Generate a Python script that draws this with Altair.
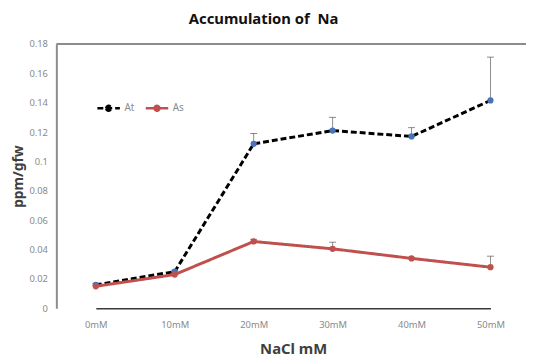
import altair as alt
import pandas as pd

categories = ["0mM", "10mM", "20mM", "30mM", "40mM", "50mM"]
at_values = [0.016, 0.025, 0.112, 0.121, 0.117, 0.1415]
at_upper = [0.017, 0.026, 0.119, 0.130, 0.123, 0.171]
as_values = [0.015, 0.023, 0.0455, 0.0405, 0.034, 0.028]
as_upper = [0.0155, 0.0235, 0.047, 0.045, 0.0345, 0.0355]
y_ticks = [0, 0.02, 0.04, 0.06, 0.08, 0.1, 0.12, 0.14, 0.16, 0.18]

rows = []
for i, c in enumerate(categories):
    rows.append({"conc": c, "series": "At", "value": at_values[i], "upper": at_upper[i]})
for i, c in enumerate(categories):
    rows.append({"conc": c, "series": "As", "value": as_values[i], "upper": as_upper[i]})
df = pd.DataFrame(rows)

font = "Noto Sans"
x_enc = alt.X(
    "conc:N",
    sort=categories,
    scale=alt.Scale(type="point", range=[40, 440], padding=0),
    axis=alt.Axis(
        title="NaCl mM", labelAngle=0, ticks=False, labelColor="#8a8a8a",
        labelFontSize=9.5, labelPadding=11, domainColor="#3a3a3a", domainWidth=1.5,
        titleFontSize=15, titleFontWeight="bold", titleColor="#404040",
        titlePadding=13, titleX=240, labelFont=font, titleFont=font,
    ),
)
y_scale = alt.Scale(domain=[0, 0.18], nice=False, zero=True)
y_axis = alt.Axis(
    title="ppm/gfw", values=y_ticks, format="~g", ticks=False, grid=False,
    labelColor="#8a8a8a", labelFontSize=9.5, labelPadding=9, labelOverlap=False,
    domainColor="#8c8c8c", domainWidth=2,
    titleFontSize=14, titleFontWeight="bold", titleColor="#404040",
    titlePadding=3, labelFont=font, titleFont=font,
)


def yq(field):
    return alt.Y(field, scale=y_scale, axis=y_axis, title="ppm/gfw")


series_dom = ["At", "As"]

base = alt.Chart(df)

err = base.mark_rule(color="#8c8c8c", strokeWidth=1).encode(
    x=x_enc, y=yq("value:Q"), y2="upper:Q"
)
caps = base.mark_tick(color="#555555", thickness=1, size=7).encode(
    x=x_enc, y=yq("upper:Q")
)

legend_path = "M-1,0H1M-0.22,0A0.22,0.22 0 1,1 0.22,0A0.22,0.22 0 1,1 -0.22,0Z"

lines = base.mark_line(strokeWidth=3).encode(
    x=x_enc,
    y=yq("value:Q"),
    color=alt.Color(
        "series:N",
        scale=alt.Scale(domain=series_dom, range=["#000000", "#c0504d"]),
        legend=alt.Legend(
            title=None, orient="none", legendX=40, legendY=52, direction="horizontal",
            symbolType=legend_path, symbolSize=520, symbolStrokeWidth=2.5,
            labelColor="#8a8a8a", labelFontSize=10, labelFont=font, columnPadding=6,
            labelOffset=3,
        ),
    ),
    strokeDash=alt.StrokeDash(
        "series:N",
        scale=alt.Scale(domain=series_dom, range=[[6, 3], [1, 0]]),
        legend=None,
    ),
)

points = base.mark_point(filled=True, size=40, opacity=1).encode(
    x=x_enc,
    y=yq("value:Q"),
    fill=alt.Fill(
        "series:N",
        scale=alt.Scale(domain=series_dom, range=["#4a74b8", "#c0504d"]),
        legend=None,
    ),
)

top = alt.Chart(pd.DataFrame({"v": [0.18]})).mark_rule(color="#8c8c8c", strokeWidth=2).encode(
    y=yq("v:Q")
)

chart = alt.layer(err, caps, lines, points, top).properties(
    width=476,
    height=268,
    title=alt.TitleParams(
        "Accumulation of\u00a0 Na", fontSize=15, fontWeight="bold", font=font,
        color="#111111", anchor="middle", dx=-28, offset=12,
    ),
    autosize=alt.AutoSizeParams(type="none"),
    padding={"left": 49, "top": 34, "right": 0, "bottom": 52},
).configure_view(stroke=None).configure_axis(grid=False, labelOverlap=False)

chart.save("out.html", embed_options={"renderer": "svg", "actions": False})
